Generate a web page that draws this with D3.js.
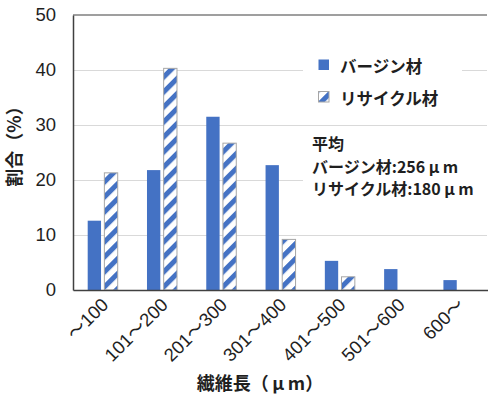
<!DOCTYPE html>
<html>
<head>
<meta charset="utf-8">
<script src="https://cdn.jsdelivr.net/npm/d3@7"></script>
<style>
  body { margin: 0; background: #fff; }
  svg { display: block; }
</style>
</head>
<body>
<div id="chart"></div>
<script>
// data
const categories = ['～100', '101～200', '201～300', '301～400', '401～500', '501～600', '600～'];
const seriesNames = ['バージン材', 'リサイクル材'];
const virgin = [12.6, 21.8, 31.5, 22.7, 5.3, 3.8, 1.8];
const recycled = [21.3, 40.3, 26.7, 9.2, 2.4, 0, 0];
const yTicks = [0, 10, 20, 30, 40, 50];
const noteLines = ['平均', 'バージン材:256μm', 'リサイクル材:180μm'];

const W = 488, H = 397;
const plotL = 73, plotR = 488, plotT = 15, plotB = 290;
const blue = '#4472c4';
const ink = '#1f1f1f';
const jp = '"Noto Sans CJK JP", "Noto Sans", sans-serif';
const num = '"Liberation Sans", "Noto Sans CJK JP", Arial, sans-serif';

const svg = d3.select('#chart').append('svg')
  .attr('width', W)
  .attr('height', H);

const defs = svg.append('defs');
const pat = defs.append('pattern')
  .attr('id', 'hatch')
  .attr('patternUnits', 'userSpaceOnUse')
  .attr('width', 10.6)
  .attr('height', 10.6)
  .attr('patternTransform', 'rotate(45)');
pat.append('rect').attr('width', 10.6).attr('height', 10.6).attr('fill', '#fff');
pat.append('rect').attr('width', 5).attr('height', 10.6).attr('fill', blue);

const x0 = d3.scaleBand().domain(categories).range([plotL, plotR]);
const x1 = d3.scaleBand().domain(seriesNames)
  .range([14.7, 44.7])
  .paddingInner(0.2);
const y = d3.scaleLinear().domain([0, 50]).range([plotB, plotT]);

// writes a string, giving the μ a full-width slot like the original
function microText(sel, str) {
  const parts = str.split('μ');
  sel.text(null);
  parts.forEach((p, i) => {
    if (i > 0) sel.append('tspan').attr('dx', 3.5).text('μ');
    sel.append('tspan').attr('dx', i > 0 ? 3.5 : 0).text(p);
  });
}

// gridlines
svg.append('g')
  .attr('transform', `translate(${plotL},0)`)
  .call(d3.axisLeft(y).tickValues(yTicks.slice(1, -1)).tickSize(-(plotR - 1 - plotL)).tickFormat(''))
  .call(g => g.select('.domain').remove())
  .call(g => g.selectAll('line').attr('stroke', '#d9d9d9'));

// top border
svg.append('line')
  .attr('x1', plotL).attr('x2', plotR - 1)
  .attr('y1', y(50)).attr('y2', y(50))
  .attr('stroke', '#7f7f7f').attr('stroke-width', 1.5);

// bars
const rows = categories.map((c, i) => ({cat: c, vals: [virgin[i], recycled[i]]}));
const groups = svg.append('g').selectAll('g')
  .data(rows)
  .join('g')
  .attr('transform', d => `translate(${x0(d.cat)},0)`);

groups.selectAll('rect')
  .data(d => d.vals.map((v, j) => ({name: seriesNames[j], v})).filter(d => d.v > 0))
  .join('rect')
  .attr('x', d => x1(d.name))
  .attr('width', x1.bandwidth())
  .attr('y', d => y(d.v))
  .attr('height', d => y(0) - y(d.v))
  .attr('fill', d => d.name === seriesNames[0] ? blue : 'url(#hatch)')
  .attr('stroke', d => d.name === seriesNames[0] ? 'none' : '#a6a6a6')
  .attr('stroke-width', 1);

// y axis
svg.append('g')
  .attr('transform', `translate(${plotL},0)`)
  .call(d3.axisLeft(y).tickValues(yTicks).tickSize(0).tickPadding(17))
  .call(g => g.select('.domain').attr('stroke', '#404040').attr('stroke-width', 1.5))
  .call(g => g.selectAll('text')
    .attr('font-family', num)
    .attr('font-size', 18.5)
    .attr('fill', ink));

// x axis
svg.append('g')
  .attr('transform', `translate(0,${plotB})`)
  .call(d3.axisBottom(x0).tickSize(0).tickPadding(0))
  .call(g => g.select('.domain').attr('stroke', '#404040').attr('stroke-width', 1.5))
  .call(g => g.selectAll('text')
    .attr('font-family', num)
    .attr('font-size', 18.5)
    .attr('fill', ink)
    .attr('text-anchor', 'end')
    .attr('dy', null)
    .attr('y', 0)
    .attr('transform', 'translate(7,16) rotate(-45)'));

// legend
const legend = svg.append('g');
legend.append('rect')
  .attr('x', 303).attr('y', 50).attr('width', 159).attr('height', 62)
  .attr('fill', '#fff');
seriesNames.forEach((s, i) => {
  const cy = 65 + i * 32;
  legend.append('rect')
    .attr('x', 318.5).attr('y', cy - 5.5)
    .attr('width', 10.5).attr('height', 10.5)
    .attr('fill', i === 0 ? blue : 'url(#hatch)')
    .attr('stroke', i === 0 ? 'none' : '#a6a6a6');
  legend.append('text')
    .attr('x', 340).attr('y', cy + 7.5)
    .attr('font-family', jp)
    .attr('font-weight', 'bold')
    .attr('font-size', 16.5)
    .attr('fill', ink)
    .text(s);
});

// average note
const note = svg.append('g');
note.append('rect')
  .attr('x', 303).attr('y', 132).attr('width', 185).attr('height', 72)
  .attr('fill', '#fff');
note.selectAll('text')
  .data(noteLines)
  .join('text')
  .attr('x', 312)
  .attr('y', (d, i) => 150 + i * 22.5)
  .attr('font-family', jp)
  .attr('font-weight', 'bold')
  .attr('font-size', 16)
  .attr('fill', ink)
  .each(function (d) { microText(d3.select(this), d); });

// axis titles
svg.append('text')
  .attr('x', 260).attr('y', 390)
  .attr('text-anchor', 'middle')
  .attr('font-family', jp)
  .attr('font-weight', 'bold')
  .attr('font-size', 18)
  .attr('fill', ink)
  .call(t => microText(t, '繊維長（μm）'));

svg.append('text')
  .attr('transform', 'translate(21,142) rotate(-90)')
  .attr('text-anchor', 'middle')
  .attr('font-family', jp)
  .attr('font-weight', 'bold')
  .attr('font-size', 18)
  .attr('fill', ink)
  .text('割合（%）');
</script>
</body>
</html>
